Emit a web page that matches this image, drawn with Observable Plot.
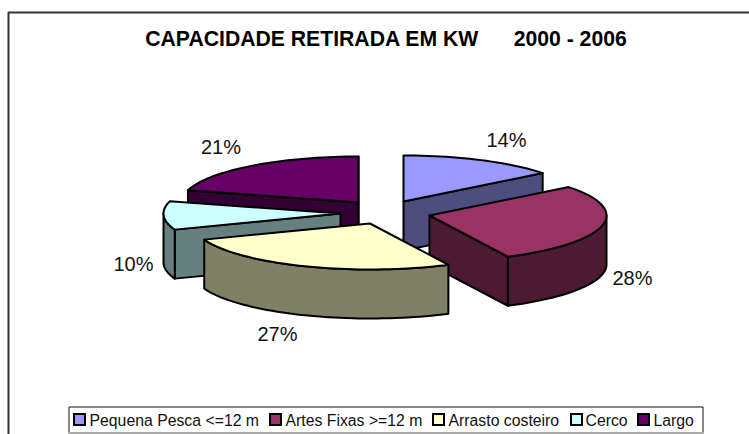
<!DOCTYPE html>
<html><head><meta charset="utf-8">
<script src="https://cdn.jsdelivr.net/npm/d3@7"></script>
<script src="https://cdn.jsdelivr.net/npm/@observablehq/plot@0.6"></script>
<style>html,body{margin:0;padding:0;background:#fff}svg{display:block}</style>
</head><body><div id="chart"></div>
<script>
const categories = ["Pequena Pesca <=12 m","Artes Fixas >=12 m","Arrasto costeiro","Cerco","Largo"];
const shares = [14.4,28.3,26.6,10.0,20.7];
const percentLabels = ["14%","28%","27%","10%","21%"];
const topColors = ["#9999FF","#993366","#FFFFCC","#CCFFFF","#660066"];
const wallColors = ["#4D4D80","#4D1A33","#808066","#668080","#330033"];
const apexX = [403,429,369.5,340,358];
const apexY = [201,215,223,213,202];
const labelX = [506,632,277,133,220.5];
const labelY = [140,278,334,264,147];
const legendSwatchX = [74,270,433,571,638];
const legendTextX = [89,285,448,585,653];
const drawOrder = [4,0,3,1,2];
const rx = 177, ry = 46, depth = 49;
const W = 749, H = 434;

const at = (i,deg,down=0)=>{const a=deg*Math.PI/180;return [apexX[i]+rx*Math.sin(a), apexY[i]-ry*Math.cos(a)+down];};
const arc = (i,a0,a1,down=0)=>{const n=Math.max(2,Math.ceil(Math.abs(a1-a0)/2));return d3.range(n+1).map(k=>at(i,a0+(a1-a0)*k/n,down));};

let cum=0;const spans=shares.map(v=>{const s=[cum*3.6,(cum+v)*3.6];cum+=v;return s;});
const faces=[];
const add=(id,fill,pts)=>pts.forEach(([x,y])=>faces.push({id,fill,x,y}));
for(const i of drawOrder){
  const [a0,a1]=spans[i];
  const apex=[apexX[i],apexY[i]];
  const apexLow=[apexX[i],apexY[i]+depth];
  if(Math.sin(a0*Math.PI/180)<0) add(`s${i}`,wallColors[i],[apex,at(i,a0),at(i,a0,depth),apexLow]);
  if(Math.sin(a1*Math.PI/180)>0) add(`e${i}`,wallColors[i],[apex,at(i,a1),at(i,a1,depth),apexLow]);
  const f0=Math.max(a0,90),f1=Math.min(a1,270);
  if(f1>f0) add(`w${i}`,wallColors[i],[...arc(i,f0,f1),...arc(i,f1,f0,depth)]);
  add(`t${i}`,topColors[i],[apex,...arc(i,a0,a1)]);
}
const idx=d3.range(categories.length);
const plot=Plot.plot({
  width:W,height:H,margin:0,
  x:{domain:[0,W],range:[0,W],axis:null},
  y:{domain:[0,H],range:[0,H],axis:null},
  color:{type:"identity"},
  marks:[
    Plot.line([[8,434],[8,12],[749,12]],{x:d=>d[0],y:d=>d[1],stroke:"#333",strokeWidth:2}),
    Plot.line(faces,{x:"x",y:"y",z:"id",fill:"fill",stroke:"#000",strokeWidth:2,curve:"linear-closed",strokeLinejoin:"round"}),
    Plot.text(idx,{x:i=>labelX[i],y:i=>labelY[i],text:i=>percentLabels[i],fontSize:20,fontFamily:"Liberation Sans",fill:"#111"}),
    Plot.text(["CAPACIDADE RETIRADA EM KW      2000 - 2006"],{x:[385.5],y:[38.5],text:d=>d,fontSize:21.2,fontWeight:"bold",fontFamily:"Liberation Sans",fill:"#000",style:"white-space:pre"}),
    Plot.line([[68.5,432.5],[68.5,406.5],[702.5,406.5],[702.5,432.5]],{x:d=>d[0],y:d=>d[1],stroke:"#111",strokeWidth:1}),
    Plot.line([[68.5,432.5],[702.5,432.5]],{x:d=>d[0],y:d=>d[1],stroke:"#aaa",strokeWidth:2}),
    Plot.rect(idx,{x1:i=>legendSwatchX[i],x2:i=>legendSwatchX[i]+11,y1:414,y2:425,fill:i=>topColors[i],stroke:"#000",strokeWidth:2}),
    Plot.text(idx,{x:i=>legendTextX[i],y:420,text:i=>categories[i],textAnchor:"start",fontSize:15.8,fontFamily:"Liberation Sans",fill:"#111"})
  ]
});
document.getElementById("chart").appendChild(plot);
</script></body></html>
